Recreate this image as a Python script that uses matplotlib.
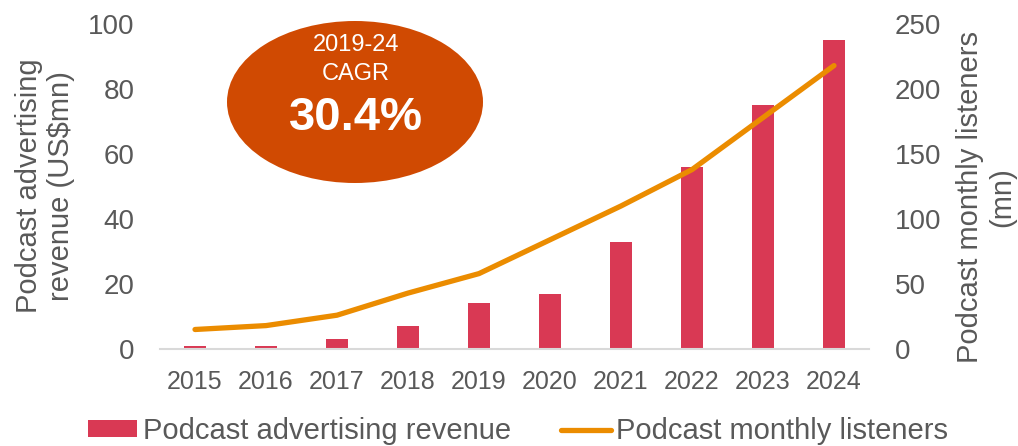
import matplotlib.pyplot as plt
from matplotlib.patches import Ellipse
import numpy as np

plt.rcParams['font.family'] = ['Liberation Sans', 'DejaVu Sans']

# data
years = ["2015", "2016", "2017", "2018", "2019", "2020", "2021", "2022", "2023", "2024"]
ad_revenue = [1, 1, 3, 7, 14, 17, 33, 56, 75, 95]          # US$mn, left axis
listeners = [15, 18, 26, 43, 58, 84, 110, 138, 178, 218]   # mn, right axis
left_ticks = [0, 20, 40, 60, 80, 100]
right_ticks = [0, 50, 100, 150, 200, 250]

BAR = "#D93954"
LINE = "#EB8C00"
BUBBLE = "#D04A02"
GREY = "#595959"

fig = plt.figure(figsize=(10.18, 4.46), dpi=100)
ax = fig.add_axes([0.1567, 0.2175, 0.6974, 0.7287])
x = np.arange(len(years))

ax.bar(x, ad_revenue, width=0.32, color=BAR, label="Podcast advertising revenue", zorder=2)
ax.set_xlim(-0.5, len(years) - 0.5)
ax.set_ylim(0, 100)
ax.set_yticks(left_ticks)
ax.set_xticks(x)
ax.set_xticklabels(years)
ax.tick_params(axis="y", length=0, pad=18, labelsize=20, labelcolor=GREY)
ax.tick_params(axis="x", length=0, pad=15, labelsize=18, labelcolor=GREY)
for s in ["top", "left", "right"]:
    ax.spines[s].set_visible(False)
ax.spines["bottom"].set_color("#D9D9D9")
ax.spines["bottom"].set_linewidth(1.5)

ax2 = ax.twinx()
ax2.plot(x, listeners, color=LINE, lw=3.8, solid_capstyle="round",
         solid_joinstyle="round", label="Podcast monthly listeners")
ax2.set_ylim(0, 250)
ax2.set_yticks(right_ticks)
ax2.tick_params(axis="y", length=0, pad=18, labelsize=20, labelcolor=GREY)
for s in ax2.spines.values():
    s.set_visible(False)

# axis titles
fig.text(45 / 1018, 1 - 186 / 446, "Podcast advertising\nrevenue (US$mn)", rotation=90,
         ha="center", va="center", fontsize=21, color=GREY, multialignment="center")
fig.text(986 / 1018, 1 - 197 / 446, "Podcast monthly listeners\n(mn)", rotation=90,
         ha="center", va="center", fontsize=21, color=GREY, multialignment="center")

# CAGR bubble
fig.patches.append(Ellipse((355 / 1018, 1 - 102 / 446), 256 / 1018, 162 / 446,
                           transform=fig.transFigure, facecolor=BUBBLE, edgecolor="none"))
fig.text(356 / 1018, 1 - 45 / 446, "2019-24", ha="center", va="center", fontsize=17, color="white")
fig.text(356 / 1018, 1 - 74 / 446, "CAGR", ha="center", va="center", fontsize=17, color="white")
fig.text(356 / 1018, 1 - 118 / 446, "30.4%", ha="center", va="center", fontsize=34,
         fontweight="bold", color="white")

h1, l1 = ax.get_legend_handles_labels()
h2, l2 = ax2.get_legend_handles_labels()
leg = fig.legend(h1 + h2, l1 + l2, loc="lower center", bbox_to_anchor=(0.509, 0.002), ncol=2,
                 frameon=False, fontsize=21, handlelength=1.7, handleheight=0.5,
                 handletextpad=0.2, columnspacing=1.7, borderaxespad=0, borderpad=0)
for t in leg.get_texts():
    t.set_color(GREY)

fig.savefig("out.png", dpi=100)
